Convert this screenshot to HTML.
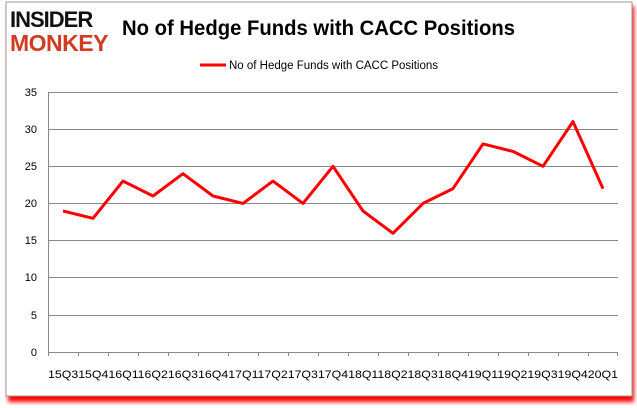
<!DOCTYPE html>
<html><head><style>
html,body{margin:0;padding:0;background:#fff;width:637px;height:408px;overflow:hidden}
svg{display:block}
text{font-family:"Liberation Sans",sans-serif}
</style></head><body>
<svg width="637" height="408" xmlns="http://www.w3.org/2000/svg">
<defs><filter id="sh" x="-5%" y="-5%" width="110%" height="115%"><feGaussianBlur stdDeviation="2"/></filter></defs>
<rect x="8" y="6" width="626" height="396" fill="#f00" filter="url(#sh)"/>
<rect x="6" y="2" width="626" height="394" fill="#fff" stroke="#999" stroke-width="1"/>
<text x="10" y="27" font-size="22" font-weight="bold" fill="#111" letter-spacing="-1">INSIDER</text>
<text x="10" y="51" font-size="23" font-weight="bold" fill="#d23a22" letter-spacing="-0.5">MONKEY</text>
<text x="122" y="35" font-size="21" font-weight="bold" fill="#000" textLength="393" lengthAdjust="spacingAndGlyphs">No of Hedge Funds with CACC Positions</text>
<line x1="200" y1="65" x2="226" y2="65" stroke="#f00" stroke-width="3"/>
<text x="229" y="69" font-size="11.5" fill="#000">No of Hedge Funds with CACC Positions</text>
<g stroke="#888" stroke-width="1">
<line x1="48" y1="92.5" x2="618" y2="92.5"/>
<line x1="48" y1="129.5" x2="618" y2="129.5"/>
<line x1="48" y1="166.5" x2="618" y2="166.5"/>
<line x1="48" y1="203.5" x2="618" y2="203.5"/>
<line x1="48" y1="240.5" x2="618" y2="240.5"/>
<line x1="48" y1="277.5" x2="618" y2="277.5"/>
<line x1="48" y1="315.5" x2="618" y2="315.5"/>
<line x1="48" y1="352.5" x2="618" y2="352.5"/>
<line x1="48.5" y1="92" x2="48.5" y2="356"/>
</g>
<g font-size="11" fill="#000" text-anchor="end">
<text x="37" y="96">35</text><text x="37" y="133">30</text><text x="37" y="170">25</text><text x="37" y="207">20</text><text x="37" y="244">15</text><text x="37" y="281">10</text><text x="37" y="319">5</text><text x="37" y="356">0</text>
</g>
<g stroke="#888">
<line x1="78.5" y1="352" x2="78.5" y2="356"/><line x1="108.5" y1="352" x2="108.5" y2="356"/><line x1="138.5" y1="352" x2="138.5" y2="356"/><line x1="168.5" y1="352" x2="168.5" y2="356"/><line x1="198.5" y1="352" x2="198.5" y2="356"/><line x1="228.5" y1="352" x2="228.5" y2="356"/><line x1="258.5" y1="352" x2="258.5" y2="356"/><line x1="288.5" y1="352" x2="288.5" y2="356"/><line x1="318.5" y1="352" x2="318.5" y2="356"/><line x1="348.5" y1="352" x2="348.5" y2="356"/><line x1="378.5" y1="352" x2="378.5" y2="356"/><line x1="408.5" y1="352" x2="408.5" y2="356"/><line x1="438.5" y1="352" x2="438.5" y2="356"/><line x1="468.5" y1="352" x2="468.5" y2="356"/><line x1="498.5" y1="352" x2="498.5" y2="356"/><line x1="528.5" y1="352" x2="528.5" y2="356"/><line x1="558.5" y1="352" x2="558.5" y2="356"/><line x1="588.5" y1="352" x2="588.5" y2="356"/><line x1="617.5" y1="352" x2="617.5" y2="356"/>
</g>
<text x="48" y="378" font-size="11" fill="#000" textLength="570" lengthAdjust="spacingAndGlyphs">15Q315Q416Q116Q216Q316Q417Q117Q217Q317Q418Q118Q218Q318Q419Q119Q219Q319Q420Q1</text>
<polyline fill="none" stroke="#f00" stroke-width="3" stroke-linejoin="round" points="63,211 93,218.3 123,181.1 153,196 183,173.7 213,196 243,203.4 273,181.1 303,203.4 333,166.3 363,211 393,233.3 423,203.4 453,188.6 483,143.9 513,151.4 543,166.3 573,121.6 603,188.6"/>
</svg>
</body></html>
